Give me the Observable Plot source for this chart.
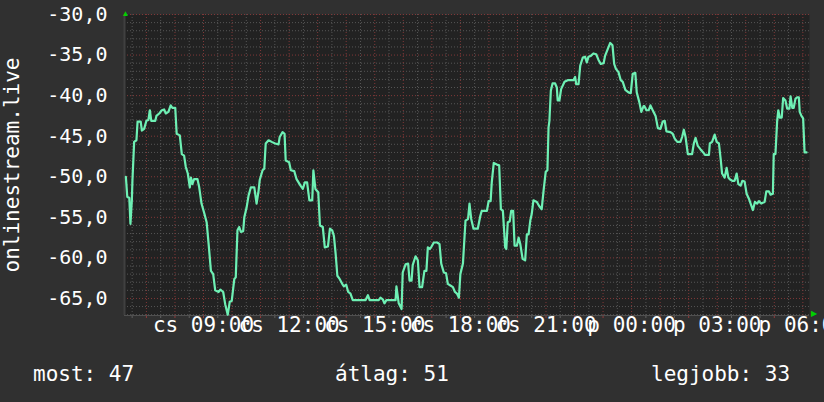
<!DOCTYPE html>
<html><head><meta charset="utf-8">
<script src="https://cdn.jsdelivr.net/npm/d3@7"></script>
<script src="https://cdn.jsdelivr.net/npm/@observablehq/plot@0.6"></script>
<style>
body{margin:0;background:#303030;}
#wrap{width:824px;height:402px;position:relative;overflow:hidden;background:#303030;}
#chart svg{display:block;}
#legend{position:absolute;top:350px;left:0;width:824px;height:52px;font-family:"DejaVu Sans Mono",monospace;font-size:21px;color:#ffffff;}
#legend span{position:absolute;top:14px;line-height:21px;white-space:pre;}
</style></head><body>
<div id="wrap"><div id="chart"></div><div id="legend"></div></div>
<script>
// hours since Thursday 00:00 (values > 24 are Friday)
const hours = [6.28,6.33,6.40,6.44,6.49,6.51,6.57,6.65,6.69,6.80,6.84,6.92,7.00,7.07,7.12,7.17,7.31,7.35,7.45,7.54,7.62,7.68,7.77,7.85,7.91,8.01,8.06,8.17,8.24,8.32,8.38,8.45,8.52,8.56,8.61,8.67,8.79,8.85,8.93,9.02,9.11,9.18,9.26,9.34,9.41,9.53,9.59,9.69,9.76,9.85,9.92,9.99,10.08,10.13,10.19,10.25,10.31,10.39,10.43,10.51,10.58,10.66,10.78,10.86,10.93,10.97,11.07,11.13,11.18,11.28,11.39,11.51,11.63,11.67,11.77,11.84,11.88,12.00,12.06,12.18,12.26,12.40,12.48,12.55,12.63,12.71,12.81,12.85,12.92,13.02,13.08,13.18,13.25,13.36,13.43,13.51,13.57,13.63,13.69,13.77,13.86,13.92,14.00,14.07,14.15,14.23,14.68,14.76,14.82,15.14,15.20,15.28,15.34,15.41,15.73,15.76,15.84,15.94,15.98,16.08,16.17,16.22,16.29,16.33,16.43,16.51,16.57,16.66,16.74,16.81,16.86,16.93,16.99,17.07,17.19,17.27,17.33,17.42,17.50,17.56,17.65,17.74,17.81,17.88,17.95,18.00,18.09,18.18,18.27,18.32,18.38,18.46,18.61,18.70,18.75,18.93,18.99,19.06,19.10,19.17,19.28,19.36,19.42,19.49,19.57,19.61,19.66,19.73,19.78,19.85,19.90,19.98,20.04,20.10,20.18,20.27,20.33,20.39,20.45,20.50,20.56,20.68,20.76,20.85,20.91,20.99,21.05,21.09,21.12,21.17,21.23,21.32,21.38,21.41,21.47,21.53,21.65,21.76,21.96,22.02,22.06,22.14,22.20,22.29,22.37,22.43,22.49,22.57,22.66,22.76,22.84,22.92,23.02,23.07,23.17,23.25,23.33,23.39,23.45,23.54,23.62,23.69,23.78,23.89,23.97,24.04,24.13,24.18,24.27,24.34,24.42,24.45,24.52,24.60,24.66,24.74,24.84,24.92,25.01,25.09,25.16,25.22,25.36,25.44,25.51,25.60,25.71,25.77,25.83,25.89,25.97,26.12,26.18,26.24,26.32,26.41,26.51,26.57,26.71,26.74,26.82,26.91,26.98,27.06,27.12,27.17,27.26,27.33,27.39,27.44,27.53,27.61,27.68,27.74,27.82,27.88,27.96,28.03,28.11,28.17,28.25,28.32,28.40,28.46,28.54,28.66,28.72,28.81,28.87,28.95,28.98,29.04,29.10,29.14,29.19,29.26,29.31,29.39,29.45,29.53,29.57,29.63,29.68,29.74,29.80,29.86,29.89,29.95,30.01,30.06,30.13];
const values = [-50.0,-52.5,-52.6,-55.8,-52.9,-50.5,-45.7,-45.5,-43.2,-43.2,-44.3,-44.1,-43.1,-43.0,-41.8,-43.1,-43.1,-42.5,-42.2,-41.8,-41.7,-42.2,-42.0,-41.2,-41.5,-41.5,-44.7,-44.9,-47.2,-47.4,-48.8,-49.6,-51.3,-50.1,-50.9,-50.3,-50.3,-51.3,-53.3,-54.4,-55.6,-58.3,-61.6,-62.0,-64.0,-64.2,-63.9,-64.2,-65.7,-67.0,-65.4,-65.3,-62.6,-62.4,-56.6,-56.2,-56.8,-56.7,-55.0,-53.8,-52.3,-51.3,-51.3,-53.3,-51.7,-50.4,-49.2,-49.0,-45.9,-45.5,-45.7,-45.9,-46.0,-45.1,-44.5,-44.7,-48.0,-48.2,-49.2,-49.3,-50.3,-51.1,-51.5,-50.7,-50.7,-52.9,-52.9,-49.2,-51.5,-51.9,-56.0,-56.2,-58.7,-58.6,-56.4,-56.6,-57.3,-59.5,-62.2,-62.6,-63.2,-63.5,-63.3,-64.2,-64.4,-65.2,-65.2,-64.6,-65.2,-65.2,-64.9,-65.1,-65.6,-65.2,-65.2,-63.5,-65.6,-66.3,-61.8,-60.8,-60.7,-62.8,-62.8,-60.9,-59.8,-60.3,-63.6,-63.6,-61.6,-61.6,-58.7,-58.9,-58.6,-58.1,-58.1,-58.3,-60.7,-61.8,-61.9,-63.2,-63.4,-63.6,-64.2,-64.4,-64.9,-62.0,-60.7,-55.4,-55.2,-53.3,-55.2,-56.4,-56.4,-54.8,-54.2,-54.2,-53.0,-53.0,-50.7,-48.3,-48.5,-48.6,-54.0,-54.2,-58.7,-58.9,-55.6,-55.5,-54.2,-54.2,-58.5,-58.5,-57.5,-58.3,-60.1,-60.3,-57.1,-57.1,-55.4,-54.6,-52.9,-53.1,-53.6,-54.0,-51.9,-49.4,-49.2,-43.9,-43.1,-39.4,-38.5,-38.5,-39.0,-40.6,-40.6,-39.2,-38.3,-38.1,-38.1,-37.7,-38.6,-38.6,-36.3,-35.3,-35.2,-35.9,-35.2,-35.1,-34.8,-34.9,-35.6,-36.1,-36.0,-35.1,-34.2,-33.5,-33.8,-36.1,-36.7,-37.1,-38.1,-38.3,-39.3,-39.6,-39.7,-37.3,-37.2,-39.6,-40.8,-42.0,-41.3,-41.3,-41.8,-41.8,-41.2,-41.8,-42.5,-44.0,-44.1,-43.2,-43.1,-44.4,-44.5,-44.7,-45.3,-45.7,-45.7,-45.1,-44.2,-45.1,-47.2,-47.2,-45.9,-45.2,-46.2,-46.6,-47.0,-47.3,-47.3,-45.9,-45.7,-44.8,-45.7,-45.9,-47.8,-49.6,-50.1,-48.9,-50.1,-50.3,-50.5,-50.5,-49.6,-50.9,-51.1,-50.5,-50.6,-52.1,-52.7,-53.3,-54.1,-53.1,-53.3,-53.0,-53.3,-53.1,-51.8,-51.8,-52.2,-52.1,-47.2,-47.2,-43.1,-41.8,-42.7,-42.7,-40.3,-40.6,-41.6,-41.6,-40.1,-41.5,-41.5,-40.4,-40.2,-40.2,-42.0,-42.5,-42.8,-47.0,-47.0];
const yTicks = [-30,-35,-40,-45,-50,-55,-60,-65];
const xTicks = [9,12,15,18,21,24,27,30];
const xLabels = ["cs 09:00","cs 12:00","cs 15:00","cs 18:00","cs 21:00","p 00:00","p 03:00","p 06:00"];
const yLabel = "onlinestream.live";
const legendLabels = ["most","átlag","legjobb"];
const legendValues = [47,51,33];

const xDomain = [6.232, 30.233];
const yDomain = [-67.1, -30];
const FONT = "DejaVu Sans Mono, monospace";
const minorY = d3.range(-67, -29, 1).filter(d => d % 5 !== 0);
const allX = d3.range(6.5, 30.3, 0.5);
const minorX = allX.filter(d => d % 1 !== 0);
const majorX = allX.filter(d => d % 1 === 0);
const data = hours.map((h, i) => ({h, v: values[i]}));

const chart = Plot.plot({
  width: 824, height: 350,
  marginLeft: 124, marginRight: 15, marginTop: 14, marginBottom: 35,
  style: {background: "transparent", overflow: "visible"},
  x: {domain: xDomain, axis: null},
  y: {domain: yDomain, axis: null},
  marks: [
    Plot.frame({fill: "#222222"}),
    Plot.ruleY(minorY, {stroke: "#565656", strokeDasharray: "1,2"}),
    Plot.ruleX(minorX, {stroke: "#565656", strokeDasharray: "1,2"}),
    Plot.ruleY(yTicks, {stroke: "#803838", strokeDasharray: "1,2"}),
    Plot.ruleX(majorX, {stroke: "#803838", strokeDasharray: "1,2"}),
    Plot.axisX({ticks: minorX, tickSize: 3, tickFormat: () => "", stroke: "#606060", label: null}),
    Plot.axisX({ticks: majorX, tickSize: 3, tickFormat: () => "", stroke: "#903c3c", label: null}),
    Plot.ruleY([yDomain[0]], {stroke: "#505050"}),
    Plot.ruleX([xDomain[0]], {stroke: "#404040", strokeWidth: 2}),
    Plot.line(data, {x: "h", y: "v", stroke: "#6ef0b4", strokeWidth: 2.2}),
    Plot.axisY({ticks: yTicks, tickSize: 0, tickPadding: 17, tickFormat: d => d.toFixed(1).replace(".", ","),
      fontSize: 20, fontFamily: FONT, fill: "#ffffff", label: null}),
    Plot.text(xTicks, {x: d => d, text: (d, i) => xLabels[i], frameAnchor: "bottom", dy: 16,
      fontSize: 21, fontFamily: FONT, fill: "#ffffff"}),
    Plot.text([yLabel], {text: d => d, frameAnchor: "left", textAnchor: "middle", lineAnchor: "middle",
      dx: -112, rotate: -90, fontSize: 21, fontFamily: FONT, fill: "#ffffff"}),
    Plot.text(["▲"], {text: d => d, frameAnchor: "top-left", textAnchor: "middle", dx: 1, dy: -4, fontSize: 8, fill: "#00d000"}),
    Plot.text(["▶"], {text: d => d, frameAnchor: "bottom-right", textAnchor: "middle", dx: 4, dy: 0, fontSize: 8, fill: "#00d000"})
  ]
});
document.getElementById("chart").appendChild(chart);

const legendX = [33, 335, 651];
const legend = document.getElementById("legend");
legendLabels.forEach((l, i) => {
  const s = document.createElement("span");
  s.style.left = legendX[i] + "px";
  s.textContent = `${l}: ${legendValues[i]}`;
  legend.appendChild(s);
});
</script>
</body></html>
